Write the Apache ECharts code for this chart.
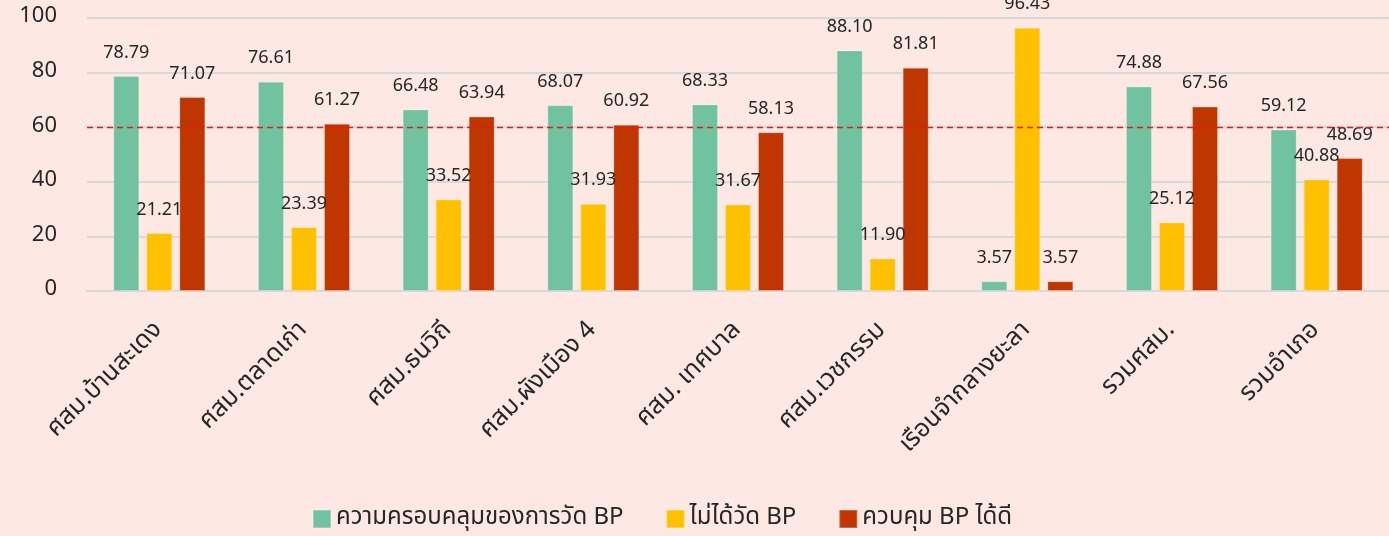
<!DOCTYPE html>
<html><head><meta charset="utf-8">
<script src="https://cdn.jsdelivr.net/npm/echarts@6/dist/echarts.min.js"></script>
<style>html,body{margin:0;padding:0;background:#fde8e4;}#c{width:1389px;height:536px;}</style>
</head><body><div id="c"></div>
<script>
const categories = ['ศสม.บ้านสะเดง','ศสม.ตลาดเก่า','ศสม.ธนวิถี','ศสม.ผังเมือง 4','ศสม. เทศบาล','ศสม.เวชกรรม','เรือนจำกลางยะลา','รวมศสม.','รวมอำเภอ'];
const coverage = [78.79, 76.61, 66.48, 68.07, 68.33, 88.10, 3.57, 74.88, 59.12];
const notMeasured = [21.21, 23.39, 33.52, 31.93, 31.67, 11.90, 96.43, 25.12, 40.88];
const controlled = [71.07, 61.27, 63.94, 60.92, 58.13, 81.81, 3.57, 67.56, 48.69];
const seriesNames = ['ความครอบคลุมของการวัด BP','ไม่ได้วัด BP','ควบคุม BP ได้ดี'];
const targetLine = 60;

const FONT = '"Noto Sans Thai","Noto Sans","DejaVu Sans",sans-serif';
const colors = ['#71c2a0','#ffc000','#c03600'];
const label = {show:true, position:'top', distance:13, fontSize:18, color:'#262626', fontFamily:FONT,
  formatter: p => p.value.toFixed(2)};
function mk(i, data){
  const s = {name:seriesNames[i], type:'bar', data:data, barWidth:26, barGap:'27%',
    itemStyle:{color:colors[i], borderColor:'rgba(255,255,255,0.25)', borderWidth:1},
    label:label};
  if(i===0){
    s.markLine = {symbol:'none', silent:true, label:{show:false},
      lineStyle:{type:[6,4], color:'#e81818', width:1.4, opacity:1},
      emphasis:{disabled:true},
      data:[{yAxis:targetLine}]};
  }
  return s;
}
const chart = echarts.init(document.getElementById('c'), null, {renderer:'canvas'});
chart.setOption({
  backgroundColor:'#fde8e4',
  animation:false,
  textStyle:{fontFamily:FONT},
  grid:{left:87, right:-12, top:18, bottom:245, containLabel:false},
  legend:{bottom:0, left:307, itemWidth:18, itemHeight:18, itemGap:42, icon:'rect',
    textStyle:{fontSize:24, color:'#262626', fontFamily:FONT}, data:seriesNames},
  xAxis:{type:'category', data:categories,
    axisLine:{lineStyle:{color:'#d9d9d9', width:2}}, axisTick:{show:false},
    axisLabel:{rotate:45, fontSize:25, color:'#262626', margin:36, interval:0, fontFamily:FONT}},
  yAxis:{type:'value', min:0, max:100, interval:20,
    axisLine:{show:false}, axisTick:{show:false},
    splitLine:{lineStyle:{color:'#d9d9d9', width:2}},
    axisLabel:{fontSize:22, color:'#262626', margin:30, fontFamily:FONT}},
  series:[mk(0,coverage), mk(1,notMeasured), mk(2,controlled)]
});
</script></body></html>
